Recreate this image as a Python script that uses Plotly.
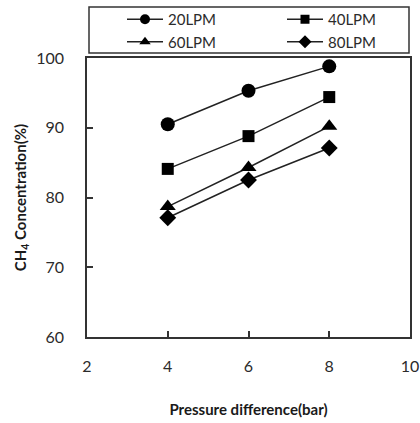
import plotly.graph_objects as go

pressure = [4, 6, 8]
series_names = ["20LPM", "40LPM", "60LPM", "80LPM"]
conc_20 = [90.5, 95.3, 98.8]
conc_40 = [84.1, 88.8, 94.4]
conc_60 = [78.7, 84.3, 90.2]
conc_80 = [77.1, 82.5, 87.1]
x_ticks = [2, 4, 6, 8, 10]
y_ticks = [60, 70, 80, 90, 100]

symbols = ["circle", "square", "triangle-up", "diamond"]
sizes = [14, 12, 14, 13]
legend_sizes = [10, 9, 10, 10]
data = [conc_20, conc_40, conc_60, conc_80]

fig = go.Figure()
for name, ys, sym, sz in zip(series_names, data, symbols, sizes):
    fig.add_trace(go.Scatter(
        x=pressure, y=ys, name=name, mode="lines+markers", showlegend=False,
        line=dict(color="#222222", width=1.5),
        marker=dict(symbol=sym, size=sz, color="black"),
    ))
# legend entries (smaller markers as in the reference legend)
for name, sym, sz in zip(series_names, symbols, legend_sizes):
    fig.add_trace(go.Scatter(
        x=[None], y=[None], name=name, mode="lines+markers", showlegend=True,
        line=dict(color="#222222", width=1.5),
        marker=dict(symbol=sym, size=sz, color="black"),
    ))

W, H = 420, 423
# plot area in pixels: x 87..410, y 58..337
L, R, T, B = 87, 410, 58, 337
def px_x(p):
    return (p - L) / (R - L)
def px_y(p):
    return (B - p) / (B - T)

font = "Lato, 'Open Sans', sans-serif"
fig.add_shape(type="rect", xref="paper", yref="paper",
              x0=px_x(89), x1=px_x(409), y0=px_y(53), y1=px_y(7),
              line=dict(color="#333333", width=1.5), fillcolor="rgba(0,0,0,0)")

fig.update_layout(
    width=W, height=H,
    margin=dict(l=L, r=W - R, t=T, b=H - B, autoexpand=False),
    paper_bgcolor="white", plot_bgcolor="white",
    font=dict(family=font, size=16, color="#2b2b2b"),
    showlegend=True,
    hovermode=False,
    legend=dict(
        orientation="h", x=px_x(122), xanchor="left", y=px_y(3), yanchor="top",
        borderwidth=0, bgcolor="rgba(0,0,0,0)",
        font=dict(size=15, color="#2b2b2b"),
        itemwidth=36,
        entrywidth=109, entrywidthmode="pixels",
        tracegroupgap=0,
    ),
    xaxis=dict(
        range=[2, 10], tickvals=x_ticks, ticks="inside", ticklen=6,
        tickcolor="#333", tickwidth=1.5, automargin=False,
        showline=True, linecolor="#333333", linewidth=1.5, mirror=True,
        showgrid=False, zeroline=False, ticklabelstandoff=14,
        title=dict(text="<b>Pressure difference(bar)</b>", standoff=31,
                   font=dict(size=15, color="#1a1a1a")),
    ),
    yaxis=dict(
        range=[60, 100], tickvals=y_ticks, ticks="inside", ticklen=6,
        tickcolor="#333", tickwidth=1.5, automargin=False,
        showline=True, linecolor="#333333", linewidth=1.5, mirror=True,
        showgrid=False, zeroline=False, ticklabelstandoff=18,
        title=dict(text="<b>CH<sub>4</sub> Concentration(%)</b>", standoff=6,
                   font=dict(size=15, color="#1a1a1a")),
    ),
)

# remove the default 8px page margin so the figure fills the window exactly
fig.write_html(
    "out.html",
    config={"displayModeBar": False},
    post_script="document.body.style.margin='0';document.body.style.overflow='hidden';",
)
